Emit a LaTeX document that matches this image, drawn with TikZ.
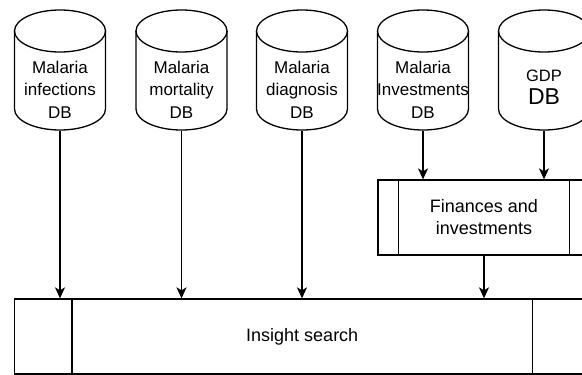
\documentclass[tikz,border=0pt]{standalone}
\usepackage{fontspec}
\setmainfont{Liberation Sans}
\usetikzlibrary{positioning,calc,arrows.meta}

\begin{document}
\begin{tikzpicture}[x=1pt,y=-1pt,line width=1.3pt,
  dbshape/.style={rectangle, minimum width=91pt, minimum height=120pt, inner sep=0pt},
  dbtext/.style={align=center, font=\fontsize{17}{22.5}\selectfont, inner sep=0pt},
  procbox/.style={draw, rectangle, inner sep=0pt, align=center,
    font=\fontsize{18}{22}\selectfont},
  flow/.style={-{Stealth[length=11pt,width=10pt,inset=3pt]}}]
\useasboundingbox (0,0) rectangle (582,375);
\clip (0,0) rectangle (582,375);

% Datenbanken (Zylinder)
\foreach \name/\x in {inf/60,mort/181.5,diag/302,invest/423,gdp/544} {
  \node[dbshape] (\name) at (\x,70) {};
  \draw (\x,31) ellipse [x radius=45.5, y radius=21];
  \draw (\x-45.5,31) -- (\x-45.5,109)
    arc[start angle=180, end angle=0, x radius=45.5, y radius=21] -- (\x+45.5,31);
}
\node[dbtext] (inf-t) at (60,89.5) {Malaria\\infections\\DB};
\node[dbtext] (mort-t) at (181.5,89.5) {Malaria\\mortality\\DB};
\node[dbtext] (diag-t) at (302,89.5) {Malaria\\diagnosis\\DB};
\node[dbtext] (invest-t) at (423,89.5) {Malaria\\Investments\\DB};
\node[dbtext, font=\fontsize{16.5}{20}\selectfont] (gdp-t) at (544,75.5) {GDP};
\node[dbtext, font=\fontsize{23}{25}\selectfont] (gdp-db) at (544,96.5) {DB};

% Prozesse
\node[procbox, minimum width=212pt, minimum height=75pt] (fin) at (484,217.5)
  {Finances and\\investments};
\draw ($(fin.north west)+(21,0)$) -- ($(fin.south west)+(21,0)$);
\draw ($(fin.north east)+(-21,0)$) -- ($(fin.south east)+(-21,0)$);

\node[procbox, minimum width=575.5pt, minimum height=75pt] (insight) at (302.25,336.5)
  {Insight search};
\draw ($(insight.north west)+(58,0)$) -- ($(insight.south west)+(58,0)$);
\draw ($(insight.north east)+(-58,0)$) -- ($(insight.south east)+(-58,0)$);

% Pfeile
\foreach \name in {inf,mort,diag} {
  \draw[flow] (\name.south) -- (\name.south |- insight.north);
}
\draw[flow] (invest.south) -- (invest.south |- fin.north);
\draw[flow] (gdp.south) -- (gdp.south |- fin.north);
\draw[flow] (fin.south) -- (fin.south |- insight.north);
\end{tikzpicture}
\end{document}
